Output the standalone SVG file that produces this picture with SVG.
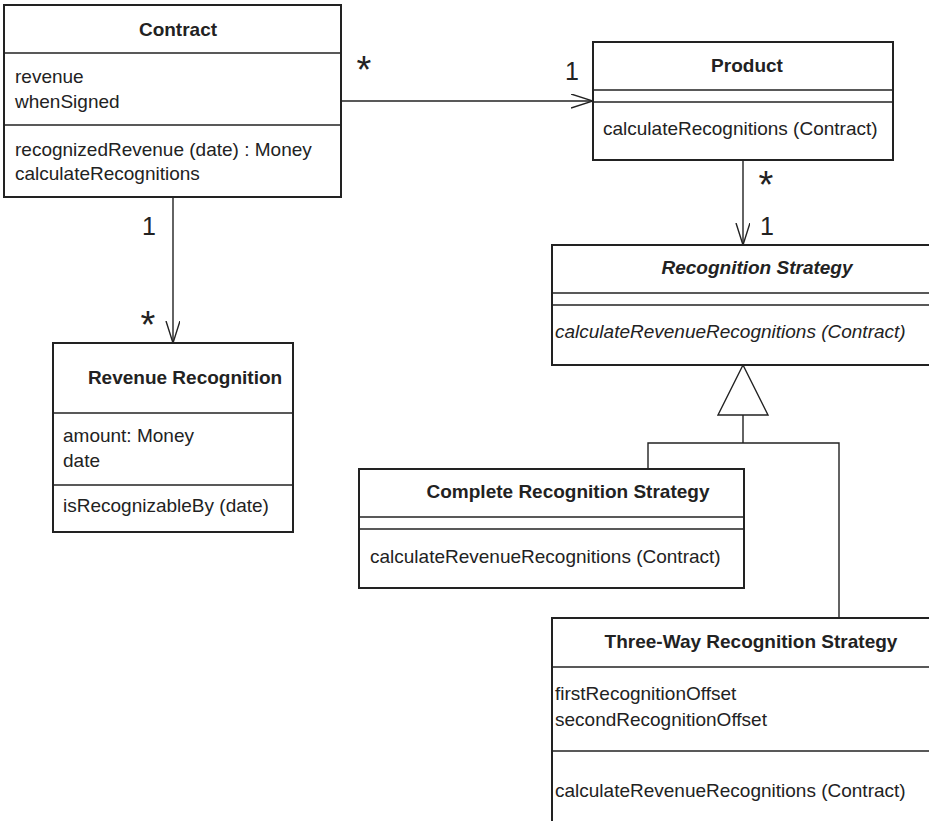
<svg xmlns="http://www.w3.org/2000/svg" width="929" height="821" viewBox="0 0 929 821">
<defs>
<style>
text{font-family:"Liberation Sans",Arial,sans-serif;fill:#222;}
.t{font-size:19px;font-weight:bold;text-anchor:middle;}
.ti{font-size:19px;font-weight:bold;font-style:italic;text-anchor:middle;}
.m{font-size:19px;}
.mi{font-size:19px;font-style:italic;}
.mul{font-size:25px;}
.ast{font-size:38px;text-anchor:middle;}
.box{fill:#fff;stroke:#222;stroke-width:2;}
.sep{stroke:#222;stroke-width:1.5;fill:none;}
.c{stroke:#222;stroke-width:1.4;fill:none;}
</style>
<marker id="open" markerUnits="userSpaceOnUse" markerWidth="24" markerHeight="16" refX="22" refY="7" orient="auto">
<path d="M0,0 L22,7 L0,14" fill="none" stroke="#222" stroke-width="1.4"/>
</marker>
</defs>
<rect width="929" height="821" fill="#fff"/>
<g id="connectors">
<line class="c" x1="341" y1="101" x2="593" y2="101" marker-end="url(#open)"/>
<line class="c" x1="743" y1="160" x2="743" y2="245" marker-end="url(#open)"/>
<line class="c" x1="173" y1="197" x2="173" y2="343" marker-end="url(#open)"/>
<polyline class="c" points="743,415 743,443"/>
<polyline class="c" points="648,469 648,443 839,443 839,618"/>
<polygon points="743,365 718,415 768,415" fill="#fff" stroke="#222" stroke-width="1.4"/>
<text class="ast" x="364" y="83">*</text>
<text class="mul" x="565" y="80">1</text>
<text class="ast" x="766" y="198">*</text>
<text class="mul" x="760" y="235">1</text>
<text class="mul" x="142" y="235">1</text>
<text class="ast" x="148" y="338">*</text>
</g>
<g id="contract">
<rect class="box" x="4" y="5" width="337" height="192"/>
<line class="sep" x1="4" y1="53" x2="341" y2="53"/>
<line class="sep" x1="4" y1="125" x2="341" y2="125"/>
<text class="t" x="178" y="36">Contract</text>
<text class="m" x="15" y="83">revenue</text>
<text class="m" x="15" y="108">whenSigned</text>
<text class="m" x="15" y="156">recognizedRevenue (date) : Money</text>
<text class="m" x="15" y="180">calculateRecognitions</text>
</g>
<g id="product">
<rect class="box" x="593" y="42" width="300" height="118"/>
<line class="sep" x1="593" y1="90" x2="893" y2="90"/>
<line class="sep" x1="593" y1="102" x2="893" y2="102"/>
<text class="t" x="747" y="72">Product</text>
<text class="m" x="603" y="135">calculateRecognitions (Contract)</text>
</g>
<g id="recognition-strategy">
<rect class="box" x="552" y="245" width="420" height="120"/>
<line class="sep" x1="552" y1="293" x2="972" y2="293"/>
<line class="sep" x1="552" y1="305" x2="972" y2="305"/>
<text class="ti" x="757" y="274">Recognition Strategy</text>
<text class="mi" x="555" y="338">calculateRevenueRecognitions (Contract)</text>
</g>
<g id="revenue-recognition">
<rect class="box" x="53" y="343" width="240" height="189"/>
<line class="sep" x1="53" y1="413" x2="293" y2="413"/>
<line class="sep" x1="53" y1="485" x2="293" y2="485"/>
<text class="t" x="185" y="384">Revenue Recognition</text>
<text class="m" x="63" y="442">amount: Money</text>
<text class="m" x="63" y="467">date</text>
<text class="m" x="63" y="512">isRecognizableBy (date)</text>
</g>
<g id="complete-recognition-strategy">
<rect class="box" x="359" y="469" width="385" height="119"/>
<line class="sep" x1="359" y1="517" x2="744" y2="517"/>
<line class="sep" x1="359" y1="529" x2="744" y2="529"/>
<text class="t" x="568" y="498">Complete Recognition Strategy</text>
<text class="m" x="370" y="563">calculateRevenueRecognitions (Contract)</text>
</g>
<g id="three-way-recognition-strategy">
<rect class="box" x="552" y="618" width="420" height="250"/>
<line class="sep" x1="552" y1="667" x2="972" y2="667"/>
<line class="sep" x1="552" y1="751" x2="972" y2="751"/>
<text class="t" x="751" y="648">Three-Way Recognition Strategy</text>
<text class="m" x="555" y="700">firstRecognitionOffset</text>
<text class="m" x="555" y="726">secondRecognitionOffset</text>
<text class="m" x="555" y="797">calculateRevenueRecognitions (Contract)</text>
</g>
</svg>
